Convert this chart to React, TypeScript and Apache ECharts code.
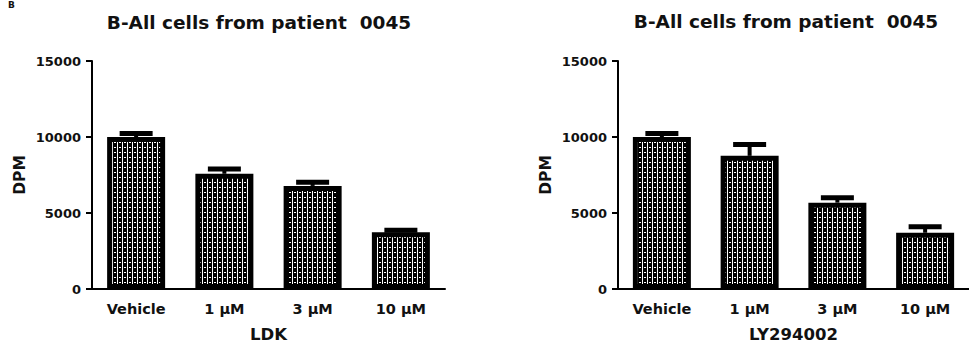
import React, { useEffect, useRef } from "react";
import * as echarts from "echarts";

const categories = ["Vehicle", "1 μM", "3 μM", "10 μM"];
const ldkMeans = [10000, 7580, 6780, 3740];
const ldkErrors = [225, 320, 240, 130];
const lyMeans = [10000, 8760, 5680, 3700];
const lyErrors = [225, 750, 320, 400];
const yTicks = [0, 5000, 10000, 15000];
const titleText = "B-All cells from patient  0045";
const leftAxisName = "LDK";
const rightAxisName = "LY294002";
const yAxisName = "DPM";
const panelLabel = "B";

const FONT = "DejaVu Sans";
const INK = "#111";

function makeTile(): HTMLCanvasElement {
  const c = document.createElement("canvas");
  c.width = 5;
  c.height = 5;
  const ctx = c.getContext("2d")!;
  ctx.fillStyle = "#000";
  ctx.fillRect(0, 0, 5, 5);
  ctx.fillStyle = "#fff";
  ctx.fillRect(2, 0, 1, 5);
  ctx.fillRect(0, 2, 1, 1);
  ctx.fillRect(4, 2, 1, 1);
  return c;
}

export default function App() {
  const ref = useRef<HTMLDivElement>(null);
  useEffect(() => {
    if (!ref.current) return;
    const chart = echarts.init(ref.current, undefined, { renderer: "svg" });
    const tile = makeTile();
    const fillPattern: any = { image: tile, repeat: "repeat" };

    const grids = [
      { left: 92, top: 61, width: 353, height: 232 },
      { left: 618, top: 61, width: 353, height: 232 },
    ];
    const xAxis = [0, 1].map((gi) => ({
      type: "category",
      gridIndex: gi,
      data: categories,
      name: gi === 0 ? leftAxisName : rightAxisName,
      nameLocation: "middle",
      nameGap: 37,
      nameTextStyle: { fontFamily: FONT, fontWeight: "bold", fontSize: 16.5, color: INK },
      axisLine: { lineStyle: { color: "#000", width: 2 } },
      axisTick: { alignWithLabel: true, length: 6, lineStyle: { color: "#000", width: 2 } },
      axisLabel: { fontFamily: FONT, fontWeight: "bold", fontSize: 14.5, color: INK, margin: 12 },
      splitLine: { show: false },
    }));
    const yAxis = [0, 1].map((gi) => ({
      type: "value",
      gridIndex: gi,
      min: yTicks[0],
      max: yTicks[yTicks.length - 1],
      interval: yTicks[1] - yTicks[0],
      name: yAxisName,
      nameLocation: "middle",
      nameRotate: 90,
      nameGap: 64,
      nameTextStyle: { fontFamily: FONT, fontWeight: "bold", fontSize: 15.5, color: INK },
      axisLine: { show: true, lineStyle: { color: "#000", width: 2 } },
      axisTick: { show: true, length: 6, lineStyle: { color: "#000", width: 2 } },
      axisLabel: {
        fontFamily: FONT,
        fontWeight: "bold",
        fontSize: 13,
        color: INK,
        margin: 11,
        formatter: (v: number) => String(v),
      },
      splitLine: { show: false },
    }));

    const errRender = (params: any, api: any) => {
      const i = api.value(0);
      const v = api.value(1);
      const e = api.value(2);
      const base = api.coord([i, v]);
      const top = api.coord([i, v + e]);
      return {
        type: "group",
        children: [
          {
            type: "line",
            shape: { x1: base[0], y1: base[1], x2: top[0], y2: top[1] },
            style: { stroke: "#000", lineWidth: 4 },
          },
          {
            type: "line",
            shape: { x1: top[0] - 16.5, y1: top[1], x2: top[0] + 16.5, y2: top[1] },
            style: { stroke: "#000", lineWidth: 5 },
          },
        ],
      };
    };

    const sets = [
      { means: ldkMeans, errs: ldkErrors },
      { means: lyMeans, errs: lyErrors },
    ];
    const series: any[] = [];
    sets.forEach((s, gi) => {
      series.push({
        type: "bar",
        xAxisIndex: gi,
        yAxisIndex: gi,
        data: s.means,
        barWidth: 58,
        itemStyle: { color: fillPattern, borderColor: "#000", borderWidth: 5 },
        z: 2,
      });
      series.push({
        type: "custom",
        xAxisIndex: gi,
        yAxisIndex: gi,
        data: s.means.map((m, i) => [i, m, s.errs[i]]),
        encode: { x: 0, y: 1 },
        renderItem: errRender,
        z: 3,
      });
    });

    chart.setOption({
      animation: false,
      backgroundColor: "#fff",
      title: [
        {
          text: titleText,
          left: 259,
          top: 13,
          textAlign: "center",
          padding: 0,
          textStyle: { fontFamily: FONT, fontWeight: "bold", fontSize: 18.5, color: INK },
        },
        {
          text: titleText,
          left: 786,
          top: 12,
          textAlign: "center",
          padding: 0,
          textStyle: { fontFamily: FONT, fontWeight: "bold", fontSize: 18.5, color: INK },
        },
      ],
      graphic: [
        {
          type: "text",
          left: 8,
          top: 0,
          style: { text: panelLabel, fontFamily: FONT, fontWeight: "bold", fontSize: 9, fill: INK },
        },
      ],
      grid: grids,
      xAxis,
      yAxis,
      series,
    });
    return () => chart.dispose();
  }, []);
  return (
    <div
      ref={ref}
      style={{ position: "absolute", left: 0, top: 0, width: 969, height: 348, background: "#fff" }}
    />
  );
}
